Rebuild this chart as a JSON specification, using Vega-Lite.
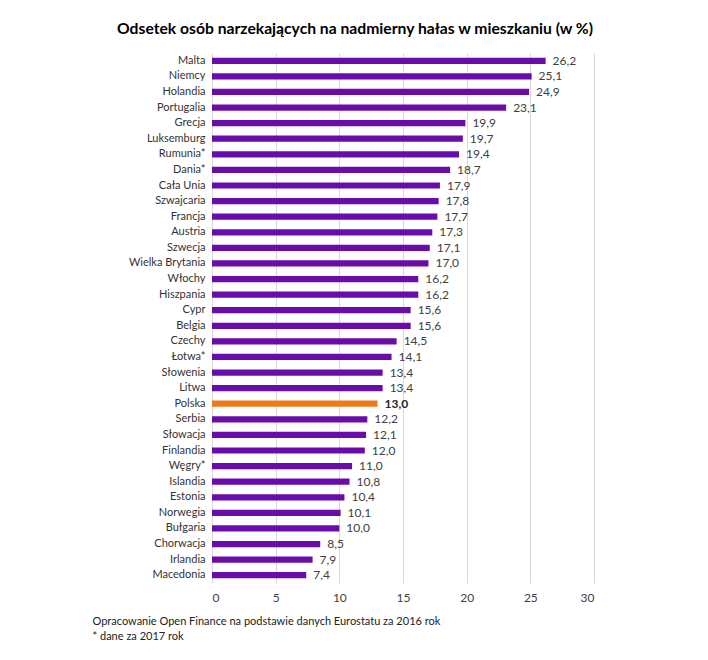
{
  "$schema": "https://vega.github.io/schema/vega-lite/v6.json",
  "autosize": {"type": "none"},
  "width": 382,
  "height": 530,
  "padding": {"left": 212, "top": 53, "right": 114, "bottom": 77},
  "background": "white",
  "config": {
    "view": {"stroke": null},
    "locale": {"number": {"decimal": ",", "thousands": " ", "grouping": [3], "currency": ["", " zł"]}},
    "font": "Lato"
  },
  "title": {
    "text": "Odsetek osób narzekających na nadmierny hałas w mieszkaniu (w %)",
    "font": "Lato",
    "fontSize": 15.7,
    "fontWeight": "bold",
    "color": "#000000",
    "anchor": "middle",
    "frame": "group",
    "dx": -48,
    "offset": 15
  },
  "data": {
    "values": [
      {"kraj": "Malta", "wartosc": 26.2, "grupa": "inne"},
      {"kraj": "Niemcy", "wartosc": 25.1, "grupa": "inne"},
      {"kraj": "Holandia", "wartosc": 24.9, "grupa": "inne"},
      {"kraj": "Portugalia", "wartosc": 23.1, "grupa": "inne"},
      {"kraj": "Grecja", "wartosc": 19.9, "grupa": "inne"},
      {"kraj": "Luksemburg", "wartosc": 19.7, "grupa": "inne"},
      {"kraj": "Rumunia*", "wartosc": 19.4, "grupa": "inne"},
      {"kraj": "Dania*", "wartosc": 18.7, "grupa": "inne"},
      {"kraj": "Cała Unia", "wartosc": 17.9, "grupa": "inne"},
      {"kraj": "Szwajcaria", "wartosc": 17.8, "grupa": "inne"},
      {"kraj": "Francja", "wartosc": 17.7, "grupa": "inne"},
      {"kraj": "Austria", "wartosc": 17.3, "grupa": "inne"},
      {"kraj": "Szwecja", "wartosc": 17.1, "grupa": "inne"},
      {"kraj": "Wielka Brytania", "wartosc": 17.0, "grupa": "inne"},
      {"kraj": "Włochy", "wartosc": 16.2, "grupa": "inne"},
      {"kraj": "Hiszpania", "wartosc": 16.2, "grupa": "inne"},
      {"kraj": "Cypr", "wartosc": 15.6, "grupa": "inne"},
      {"kraj": "Belgia", "wartosc": 15.6, "grupa": "inne"},
      {"kraj": "Czechy", "wartosc": 14.5, "grupa": "inne"},
      {"kraj": "Łotwa*", "wartosc": 14.1, "grupa": "inne"},
      {"kraj": "Słowenia", "wartosc": 13.4, "grupa": "inne"},
      {"kraj": "Litwa", "wartosc": 13.4, "grupa": "inne"},
      {"kraj": "Polska", "wartosc": 13.0, "grupa": "Polska"},
      {"kraj": "Serbia", "wartosc": 12.2, "grupa": "inne"},
      {"kraj": "Słowacja", "wartosc": 12.1, "grupa": "inne"},
      {"kraj": "Finlandia", "wartosc": 12.0, "grupa": "inne"},
      {"kraj": "Węgry*", "wartosc": 11.0, "grupa": "inne"},
      {"kraj": "Islandia", "wartosc": 10.8, "grupa": "inne"},
      {"kraj": "Estonia", "wartosc": 10.4, "grupa": "inne"},
      {"kraj": "Norwegia", "wartosc": 10.1, "grupa": "inne"},
      {"kraj": "Bułgaria", "wartosc": 10.0, "grupa": "inne"},
      {"kraj": "Chorwacja", "wartosc": 8.5, "grupa": "inne"},
      {"kraj": "Irlandia", "wartosc": 7.9, "grupa": "inne"},
      {"kraj": "Macedonia", "wartosc": 7.4, "grupa": "inne"}
    ]
  },
  "encoding": {
    "y": {
      "field": "kraj",
      "type": "nominal",
      "sort": null,
      "scale": {"paddingInner": 0.6, "paddingOuter": 0.3},
      "axis": {
        "title": null,
        "domain": false,
        "ticks": false,
        "labelFont": "Lato",
        "labelFontSize": 11,
        "labelColor": "#333333",
        "labelPadding": 7
      }
    },
    "x": {
      "field": "wartosc",
      "type": "quantitative",
      "scale": {"domain": [0, 30], "nice": false},
      "axis": {
        "values": [0, 5, 10, 15, 20, 25, 30],
        "format": "d",
        "domain": false,
        "ticks": false,
        "grid": true,
        "gridColor": "#d9d9d9",
        "gridWidth": 1,
        "labelFont": "Lato",
        "labelFontSize": 12,
        "labelColor": "#404040",
        "labelPadding": 9,
        "title": [
          "Opracowanie Open Finance na podstawie danych Eurostatu za 2016 rok",
          "* dane za 2017 rok"
        ],
        "titleFont": "Lato",
        "titleFontSize": 11,
        "titleFontWeight": "normal",
        "titleColor": "#222222",
        "titleAnchor": "start",
        "titleAlign": "left",
        "titleBaseline": "top",
        "titleX": -120,
        "titleY": 32,
        "titleLineHeight": 15
      }
    }
  },
  "layer": [
    {
      "mark": {"type": "bar"},
      "encoding": {
        "color": {
          "field": "grupa",
          "type": "nominal",
          "scale": {"domain": ["inne", "Polska"], "range": ["#6a0da8", "#ee7a1c"]},
          "legend": null
        }
      }
    },
    {
      "transform": [{"filter": "datum.grupa !== 'Polska'"}],
      "mark": {"type": "text", "align": "left", "baseline": "middle", "dx": 7, "fontSize": 12, "font": "Lato", "color": "#404040"},
      "encoding": {
        "text": {"field": "wartosc", "type": "quantitative", "format": ".1f"}
      }
    },
    {
      "transform": [{"filter": "datum.grupa === 'Polska'"}],
      "mark": {"type": "text", "align": "left", "baseline": "middle", "dx": 7, "fontSize": 12, "font": "Lato", "fontWeight": "bold", "color": "#262626"},
      "encoding": {
        "text": {"field": "wartosc", "type": "quantitative", "format": ".1f"}
      }
    }
  ]
}
